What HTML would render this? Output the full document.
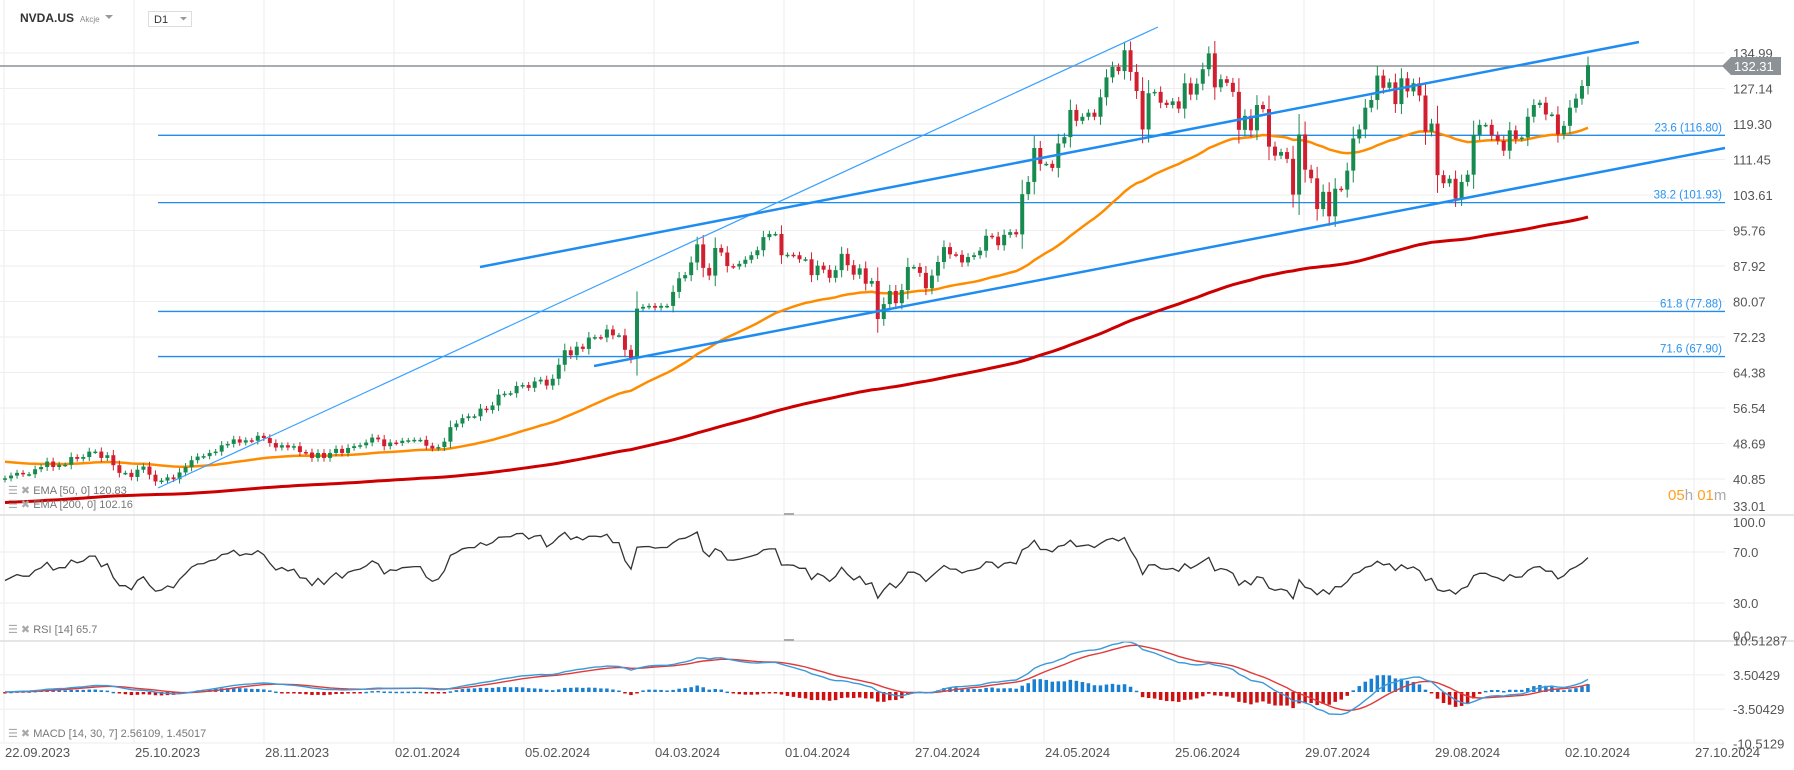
<!DOCTYPE html>
<html><head><meta charset="utf-8"><style>
html,body{margin:0;padding:0;background:#fff;}
svg{display:block;font-family:"Liberation Sans",sans-serif;}
</style></head><body>
<svg id="chart" width="1794" height="770" viewBox="0 0 1794 770" xmlns="http://www.w3.org/2000/svg">
<g id="grid"></g>
<g id="fib"></g>
<line x1="0" y1="66" x2="1725" y2="66" stroke="#8c9296" stroke-width="1.5"/>
<g id="ema"></g>
<g id="candles"></g>
<g>
<line x1="158" y1="488" x2="1158" y2="27" stroke="#3aa0ff" stroke-width="1.2"/>
<line x1="480" y1="267" x2="1639" y2="42" stroke="#1e8cf0" stroke-width="2.5"/>
<line x1="594" y1="366" x2="1725" y2="148" stroke="#1e8cf0" stroke-width="2.5"/>
</g>
<g id="rsi"></g>
<g id="macd"></g>
<g id="axes"></g>
<polygon points="1722,66 1731,57 1781,57 1781,75 1731,75" fill="#8c9296"/>
<text x="1734" y="71" font-size="13" fill="#fff">132.31</text>
<g>
<text x="20" y="22" font-size="12" font-weight="bold" fill="#333">NVDA.US</text>
<text x="80" y="22" font-size="8" fill="#888">Akcje</text>
<polygon points="105,15 113,15 109,19" fill="#999"/>
<rect x="148.5" y="11.5" width="43" height="15" fill="#fff" stroke="#ddd"/>
<text x="154" y="23" font-size="11" fill="#333">D1</text>
<polygon points="180,17 187,17 183.5,20.5" fill="#999"/>
</g>
<g font-size="11" fill="#777">
<text x="8" y="494"><tspan fill="#aaa">☰ ✖ </tspan>EMA  [50,  0] 120.83</text>
<text x="8" y="508"><tspan fill="#aaa">☰ ✖ </tspan>EMA  [200,  0] 102.16</text>
<text x="8" y="633"><tspan fill="#aaa">☰ ✖ </tspan>RSI  [14]  65.7</text>
<text x="8" y="737"><tspan fill="#aaa">☰ ✖ </tspan>MACD  [14,  30,  7] 2.56109,  1.45017</text>
</g>
<text x="1668" y="500" font-size="15"><tspan fill="#ffa020">05</tspan><tspan fill="#aaa">h </tspan><tspan fill="#ffa020">01</tspan><tspan fill="#aaa">m</tspan></text>
</svg>
<script>
const closes=[41.0,41.6,42.2,41.9,41.9,43.0,43.5,
44.7,43.5,44.0,44.0,45.7,45.3,45.7,46.9,46.9,45.5,46.1,43.9,42.2,42.2,41.3,42.9,43.6,41.8,40.3,40.5,41.2,40.8,
42.3,43.5,45.0,45.8,45.9,46.6,46.9,48.3,48.6,49.6,48.9,49.4,49.3,50.4,49.9,48.8,47.8,48.3,47.8,48.1,46.8,
46.7,45.5,46.6,45.5,46.6,47.5,46.6,47.7,48.1,48.3,48.9,50.0,49.6,48.1,48.9,48.8,49.3,49.4,49.5,49.5,
48.2,47.6,47.9,49.1,52.3,53.1,54.3,54.7,54.7,56.4,56.1,57.1,59.5,59.7,59.8,61.4,61.6,61.0,62.4,62.8,61.5,
63.0,66.1,69.3,68.2,70.1,69.6,72.1,72.2,72.1,73.9,72.6,72.6,69.4,67.5,78.5,78.9,79.1,78.7,79.1,79.1,
82.2,85.2,85.9,88.7,92.7,87.5,85.8,91.9,90.9,87.9,87.8,88.4,89.3,90.3,91.4,94.3,95.0,95.0,90.3,90.4,
90.3,89.4,89.4,85.9,88.0,87.1,85.3,87.0,90.6,88.1,86.0,87.4,84.0,84.6,76.2,79.5,82.4,79.7,82.6,87.7,87.7,86.4,
83.0,85.8,88.8,92.1,90.5,90.4,88.7,89.9,90.3,91.3,94.6,94.4,92.5,94.8,95.4,94.9,103.8,106.5,114.0,110.5,110.5,109.6,
115.0,116.4,122.4,120.0,120.9,121.8,120.9,125.2,129.6,131.9,131.0,135.6,130.8,126.6,118.1,126.1,126.4,124.0,123.5,
124.3,122.7,128.3,125.8,128.2,131.4,134.9,127.4,129.2,128.4,126.4,118.0,121.1,117.9,123.5,122.6,114.3,112.3,113.1,111.6,103.7,117.0,
109.2,107.3,100.5,104.3,98.9,105.0,104.8,109.0,116.1,118.1,122.9,124.6,130.0,127.3,128.5,123.7,129.4,126.5,128.3,125.6,117.6,119.4,
108.0,106.2,107.2,102.8,106.5,108.1,116.9,119.1,119.1,116.8,115.6,113.4,117.9,116.0,116.3,120.9,123.5,124.0,121.4,121.4,
117.0,118.9,122.9,124.9,127.7,132.3];
const priceTicks=["134.99","127.14","119.30","111.45","103.61","95.76","87.92","80.07","72.23","64.38","56.54","48.69","40.85","33.01"];
const fibLevels=[116.80,101.93,77.88,67.90];
const fibNames=["23.6","38.2","61.8","71.6"];
const rsiTicks=["100.0","70.0","30.0","0.0"];
const macdTicks=["10.51287","3.50429","-3.50429","-10.5129"];
const dateLabels=["22.09.2023","25.10.2023","28.11.2023","02.01.2024","05.02.2024","04.03.2024","01.04.2024","27.04.2024","24.05.2024","25.06.2024","29.07.2024","29.08.2024","02.10.2024","27.10.2024"];
const ema50Seed=44.8, ema200Seed=35.6;

const NS="http://www.w3.org/2000/svg";
function mk(tag,attrs,parent){const e=document.createElementNS(NS,tag);for(const k in attrs)e.setAttribute(k,attrs[k]);parent.appendChild(e);return e;}
const n=closes.length;
const xS=i=>5+i*(1583/(n-1));
const yP=p=>53+(134.99-p)*4.525;
const yR=v=>552+(70-v)*1.275;
const yM=m=>692-m*4.9;

const grid=document.getElementById('grid');
for(let k=0;k<14;k++){const x=4+130*k;const l=mk('line',{x1:x,y1:0,x2:x,y2:743,stroke:'#eeeeee'},grid);
}
const axes=document.getElementById('axes');
priceTicks.forEach(t=>{const y=yP(parseFloat(t));
 if(y<512){const l=mk('line',{x1:0,y1:y,x2:1725,y2:y,stroke:'#eeeeee'},grid);}
 const tx=mk('text',{x:1733,y:Math.min(y+5,511),'font-size':13,fill:'#555'},axes);tx.textContent=t;
 });
[515,641].forEach(y=>{const l=mk('line',{x1:0,y1:y,x2:1794,y2:y,stroke:'#dddddd','stroke-width':1.5},axes);
 });
const sm=mk('rect',{x:784,y:513,width:10,height:2,fill:'#aaa'},axes);
const sm2=mk('rect',{x:784,y:639,width:10,height:2,fill:'#aaa'},axes);
rsiTicks.forEach(t=>{const v=parseFloat(t);const y=yR(v);
 if(v>0&&v<100){const l=mk('line',{x1:0,y1:y,x2:1725,y2:y,stroke:'#eeeeee'},grid);}
 const yy=v>=100?y+13:(v<=0?y-1:y+5);
 const tx=mk('text',{x:1733,y:yy,'font-size':13,fill:'#555'},axes);tx.textContent=t;
 });
macdTicks.forEach((t,i)=>{const y=yM(parseFloat(t));
 if(i==1||i==2){const l=mk('line',{x1:0,y1:y,x2:1725,y2:y,stroke:'#eeeeee'},grid);}
 const tx=mk('text',{x:1733,y:y+5,'font-size':13,fill:'#555'},axes);tx.textContent=t;
 });
const bl=mk('line',{x1:0,y1:743,x2:1725,y2:743,stroke:'#eeeeee'},grid);
dateLabels.forEach((d,k)=>{const tx=mk('text',{x:5+130*k,y:757,'font-size':13,fill:'#555'},axes);tx.textContent=d;
 });

const fib=document.getElementById('fib');
fibLevels.forEach((p,i)=>{const y=yP(p);
 const l=mk('line',{x1:158,y1:y,x2:1725,y2:y,stroke:'#1e8cf0','stroke-width':1.3},fib);
 
 const t=mk('text',{x:1722,y:y-4,'font-size':11.5,fill:'#2a93f0','text-anchor':'end'},fib);t.textContent=fibNames[i]+' ('+p.toFixed(2)+')';
 });

function ema(arr,p,seed){const k=2/(p+1);let e=seed;return arr.map(v=>(e=v*k+e*(1-k)));}
const e50=ema(closes,50,ema50Seed), e200=ema(closes,200,ema200Seed);
const eg=document.getElementById('ema');
const pl=(arr,fy)=>arr.map((v,i)=>xS(i).toFixed(1)+','+fy(v).toFixed(1)).join(' ');
const l200=mk('polyline',{points:pl(e200,yP),fill:'none',stroke:'#cc0000','stroke-width':3},eg);

const l50=mk('polyline',{points:pl(e50,yP),fill:'none',stroke:'#ff8c00','stroke-width':2.5},eg);


const cg=document.getElementById('candles');
for(let i=0;i<n;i++){const o=i?closes[i-1]:closes[0]-0.3,c=closes[i];const up=c>=o;const col=up?'#178a4f':'#d21f30';
 const rng=Math.abs(c-o);const hi=Math.max(o,c)+rng*0.3+0.5,lo=Math.min(o,c)-rng*0.3-0.5;const x=xS(i);
 const w=mk('line',{x1:x,y1:yP(hi),x2:x,y2:yP(lo),stroke:col,'stroke-width':1},cg);
 
 const yt=yP(Math.max(o,c)),yb=yP(Math.min(o,c));
 const b=mk('rect',{x:x-2,y:yt,width:4,height:Math.max(1.5,yb-yt),fill:col},cg);
 }

const rsi=[];let ag=0.5,al=0.55;
for(let i=0;i<n;i++){const d=i?closes[i]-closes[i-1]:0;ag=(ag*13+Math.max(d,0))/14;al=(al*13+Math.max(-d,0))/14;rsi.push(100-100/(1+ag/al));}
const rl=mk('polyline',{points:pl(rsi,yR),fill:'none',stroke:'#333','stroke-width':1.3},document.getElementById('rsi'));


const f=ema(closes,14,closes[0]),s=ema(closes,30,closes[0]);
const macd=f.map((v,i)=>v-s[i]);const sig=ema(macd,7,0);
const mg=document.getElementById('macd');
macd.forEach((m,i)=>{const h=m-sig[i];const y0=yM(0),y1=yM(h*1.6);
 const r=mk('rect',{x:xS(i)-1.75,y:Math.min(y0,y1),width:3.5,height:Math.max(1.5,Math.abs(y1-y0)),fill:h>=0?'#1a7fd0':'#d01010'},mg);
 });
const sl=mk('polyline',{points:pl(sig,yM),fill:'none',stroke:'#e03a3a','stroke-width':1.4},mg);

const ml=mk('polyline',{points:pl(macd,yM),fill:'none',stroke:'#3a9ad9','stroke-width':1.4},mg);

</script>
</body></html>
